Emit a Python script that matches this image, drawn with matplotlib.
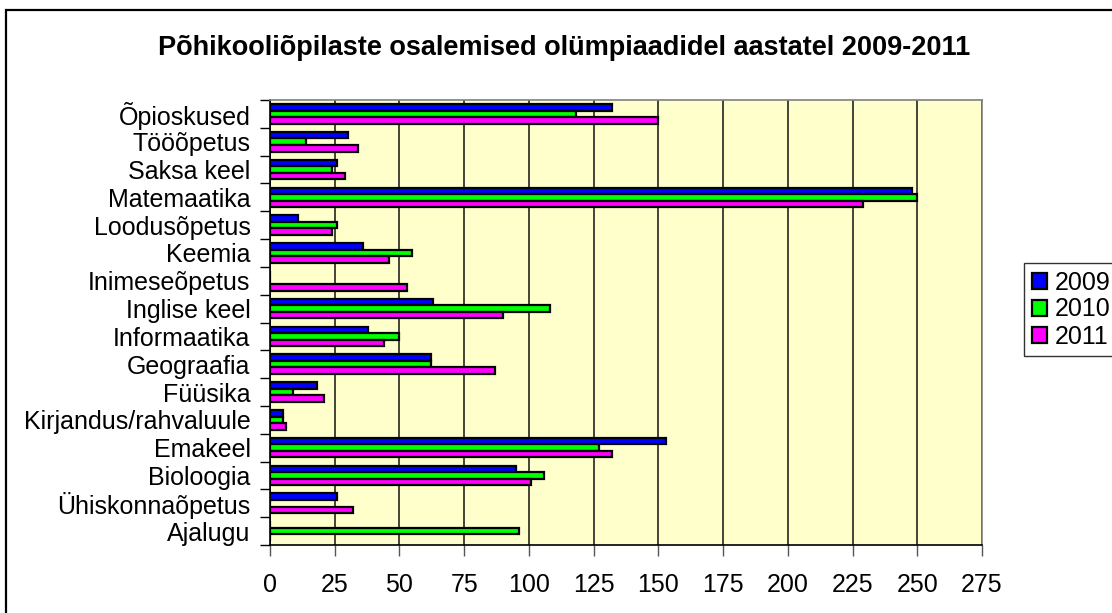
import matplotlib
matplotlib.use("Agg")
import matplotlib.pyplot as plt
import numpy as np
from matplotlib.patches import Rectangle

plt.rcParams['font.family'] = ['Liberation Sans', 'DejaVu Sans']

categories = ["Ajalugu", "Ühiskonnaõpetus", "Bioloogia", "Emakeel",
              "Kirjandus/rahvaluule", "Füüsika", "Geograafia", "Informaatika",
              "Inglise keel", "Inimeseõpetus", "Keemia", "Loodusõpetus",
              "Matemaatika", "Saksa keel", "Tööõpetus", "Õpioskused"]
v2009 = [0, 26, 95, 153, 5, 18, 62, 38, 63, 0, 36, 11, 248, 26, 30, 132]
v2010 = [96, 0, 106, 127, 5, 9, 62, 50, 108, 0, 55, 26, 250, 24, 14, 118]
v2011 = [0, 32, 101, 132, 6, 21, 87, 44, 90, 53, 46, 24, 229, 29, 34, 150]
series_labels = ["2009", "2010", "2011"]
colors = ["#0000FF", "#00FF00", "#FF00FF"]
xticks = list(range(0, 276, 25))
title = "Põhikooliõpilaste osalemised olümpiaadidel aastatel 2009-2011"

W, H = 1112, 613
fig = plt.figure(figsize=(W / 100, H / 100), dpi=100)
fig.patch.set_facecolor("white")

# outer border (extends past right/bottom edges)
fig.patches.append(Rectangle((6 / W, -0.05), 1.2, 1 - 10 / H + 0.05,
                             transform=fig.transFigure, fill=False,
                             edgecolor="black", linewidth=1.6))

ax = fig.add_axes([270 / W, (H - 545) / H, (982 - 270) / W, 445 / H])
ax.set_facecolor("#FFFFCC")

y = np.arange(len(categories))
bh = 0.235
for i, (vals, lab, c) in enumerate(zip([v2009, v2010, v2011], series_labels, colors)):
    offset = (1 - i) * bh
    ax.barh(y + offset, vals, height=bh, color=c, edgecolor="black",
            linewidth=1.6, label=lab, zorder=3)

ax.set_xlim(0, 275)
ax.set_ylim(-0.5, len(categories) - 0.5)
ax.set_xticks(xticks)
ax.set_xticklabels([str(t) for t in xticks], fontsize=18)
ax.xaxis.grid(True, color="#111111", linewidth=1.1, zorder=1)
ax.set_axisbelow(True)

ax.set_yticks(np.arange(-0.5, len(categories), 1.0))
ax.set_yticklabels([])
ax.set_yticks(y, minor=True)
ax.set_yticklabels(categories, minor=True, fontsize=18)
ax.tick_params(axis="y", which="minor", length=0, pad=14)
ax.tick_params(axis="y", which="major", length=7, direction="out", width=1, color="black")
ax.tick_params(axis="x", length=8, direction="out", width=1, color="#555555", pad=12)

for s in ["top", "right"]:
    ax.spines[s].set_color("#808080")
    ax.spines[s].set_linewidth(1.2)
for s in ["left", "bottom"]:
    ax.spines[s].set_color("black")
    ax.spines[s].set_linewidth(1.2)

fig.text((157 + 972) / 2 / W, 1 - 48 / H, title, ha="center", va="center",
         fontsize=19.5, fontweight="bold")

leg = fig.legend(loc="upper left", bbox_to_anchor=(1024 / W, 1 - 263 / H),
                 fontsize=18, frameon=True, fancybox=False, borderpad=0.3,
                 handlelength=0.6, handleheight=0.6, handletextpad=0.35,
                 labelspacing=0.12, borderaxespad=0)
leg.get_frame().set_edgecolor("black")
leg.get_frame().set_linewidth(1.0)

fig.savefig("out.png", dpi=100)
